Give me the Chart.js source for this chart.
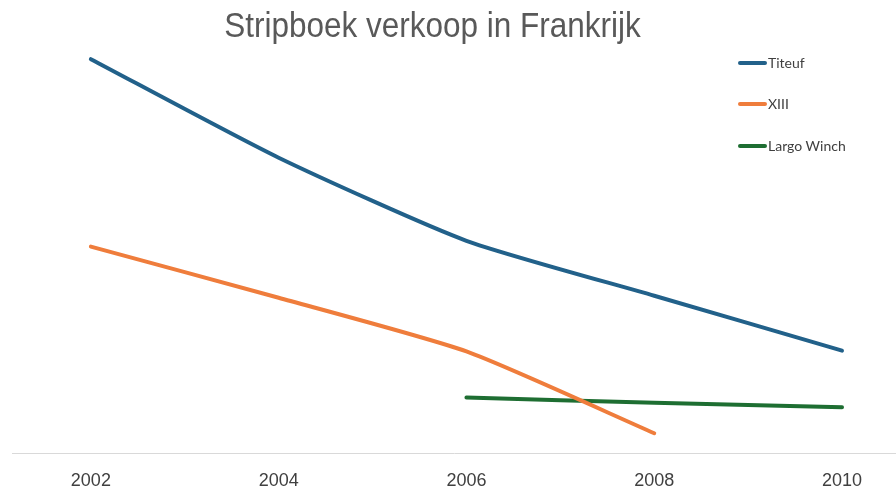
<!DOCTYPE html>
<html>
<head>
<meta charset="utf-8">
<script src="https://cdn.jsdelivr.net/npm/chart.js@4"></script>
<style>
  html, body { margin: 0; padding: 0; background: #ffffff; }
  #wrap { position: relative; width: 896px; height: 489px; overflow: hidden; }
  #c { position: absolute; left: 0; top: 0; }
  #title { position: absolute; left: 0; width: 864px; top: 5px; text-align: center;
           font-family: "Liberation Sans", sans-serif; font-size: 35px; color: #595959; }
  #title span { display: inline-block; transform: scaleX(0.9); transform-origin: center; }
  .leg { position: absolute; left: 738px; height: 20px; font-family: Lato, sans-serif; font-size: 14px; color: #404040; }
  .leg .sw { position: absolute; left: 0; top: 8px; width: 29px; height: 4px; border-radius: 2px; }
  .leg .tx { position: absolute; left: 30px; top: 1px; white-space: nowrap; line-height: 18px; }
</style>
</head>
<body>
<div id="wrap">
  <canvas id="c" width="896" height="489"></canvas>
  <div id="title"><span></span></div>
  <div id="legend"></div>
</div>
<script>
const chartTitle = "Stripboek verkoop in Frankrijk";
const years = [2002, 2004, 2006, 2008, 2010];
const titeuf = [94, 70.5, 50.7, 37.6, 24.5];
const xiii = [49.3, 37.1, 24.3, 4.8, null];
const largoWinch = [null, null, 13.3, 12.1, 11.0];
const seriesNames = ["Titeuf", "XIII", "Largo Winch"];
const seriesColors = ["#22618a", "#ef7d3c", "#1e6e32"];

document.querySelector('#title span').textContent = chartTitle;

const seriesValues = [titeuf, xiii, largoWinch];
const datasets = seriesNames.map((name, i) => ({
  label: name,
  data: years.map((y, j) => ({ x: y, y: seriesValues[i][j] })),
  borderColor: seriesColors[i],
  backgroundColor: seriesColors[i],
  borderWidth: 4,
  pointRadius: 0,
  pointHoverRadius: 0,
  tension: 0.2,
  borderCapStyle: 'round',
  spanGaps: false,
  fill: false
}));

// HTML legend
const legTops = [53, 94, 136];
const legend = document.getElementById('legend');
seriesNames.forEach((name, i) => {
  const d = document.createElement('div');
  d.className = 'leg';
  d.style.top = legTops[i] + 'px';
  d.innerHTML = '<div class="sw" style="background:' + seriesColors[i] + '"></div><div class="tx"></div>';
  d.querySelector('.tx').textContent = name;
  legend.appendChild(d);
});

new Chart(document.getElementById('c'), {
  type: 'line',
  data: { datasets },
  options: {
    responsive: false,
    animation: false,
    layout: { padding: { left: 12, right: 0, top: 34, bottom: -20 } },
    plugins: { legend: { display: false }, title: { display: false }, tooltip: { enabled: false } },
    scales: {
      x: {
        type: 'linear',
        min: 2001.16,
        max: 2010.575,
        afterBuildTicks: (axis) => { axis.ticks = years.map(v => ({ value: v })); },
        ticks: {
          padding: 17,
          autoSkip: false,
          maxRotation: 0,
          color: '#404040',
          font: { family: '"Liberation Sans", sans-serif', size: 18 },
          callback: (v) => String(v)
        },
        grid: { display: false, drawTicks: false },
        border: { display: true, color: '#d9d9d9', width: 1 }
      },
      y: {
        display: false,
        min: 0,
        max: 100
      }
    }
  }
});
</script>
</body>
</html>
